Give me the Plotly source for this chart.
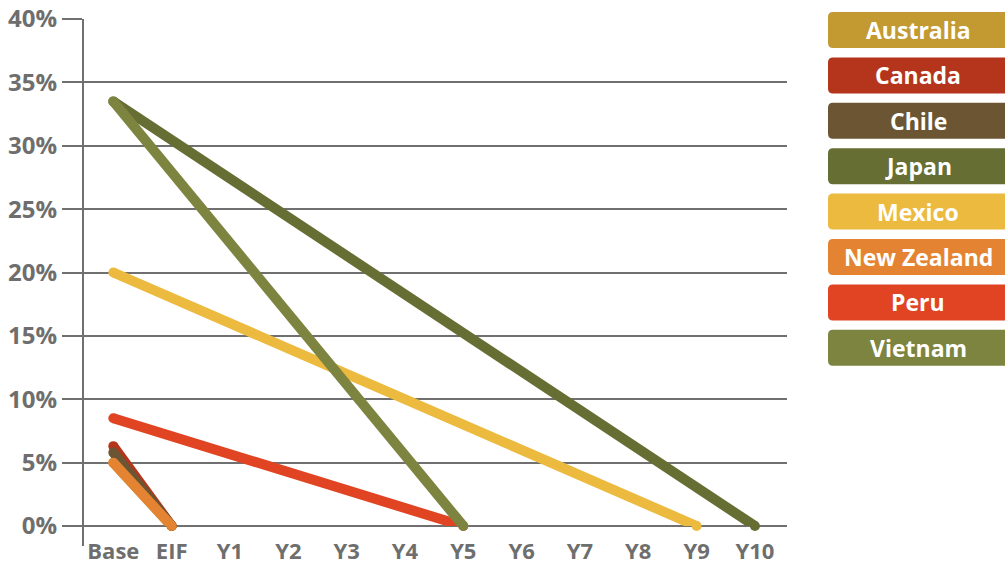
import plotly.graph_objects as go

# Tariff phase-out schedule: base rate and the period in which it reaches zero
periods = ["Base", "EIF", "Y1", "Y2", "Y3", "Y4", "Y5", "Y6", "Y7", "Y8", "Y9", "Y10"]
countries = ["Australia", "Canada", "Chile", "Japan", "Mexico", "New Zealand", "Peru", "Vietnam"]
base_rates = [5.0, 6.3, 5.8, 33.5, 20.0, 5.0, 8.5, 33.5]
end_periods = ["EIF", "EIF", "EIF", "Y10", "Y9", "EIF", "Y5", "Y5"]
colors = ["#C39A32", "#B5351C", "#6B5533", "#666E34", "#EBBA3F", "#E48432", "#E04423", "#7D8440"]

y_ticks = [0, 5, 10, 15, 20, 25, 30, 35, 40]
y_tick_text = [f"{v}%" for v in y_ticks]

GRID = "#707070"
TEXT = "#6E6E6E"
FONT = "Open Sans"

W, H = 1005, 569
L, R, T, B = 83, 218, 19, 43
PW, PH = W - L - R, H - T - B


def px_x(x):
    return (x - L) / PW


def px_y(y):
    return (H - B - y) / PH


fig = go.Figure()
for name, rate, end, col in zip(countries, base_rates, end_periods, colors):
    # thick line with round dots at both ends for rounded caps
    fig.add_trace(go.Scatter(
        x=[periods[0], end], y=[rate, 0],
        mode="lines+markers", name=name,
        line=dict(color=col, width=10),
        marker=dict(color=col, size=10, line=dict(width=0)),
        showlegend=False, hoverinfo="name+y", cliponaxis=False,
    ))

fig.update_layout(
    width=W, height=H,
    margin=dict(l=L, r=R, t=T, b=B),
    paper_bgcolor="white", plot_bgcolor="white",
    font=dict(family=FONT, color=TEXT),
    xaxis=dict(
        type="category", categoryorder="array", categoryarray=periods,
        tickvals=periods, range=[-0.52, 11.55], automargin=False,
        showgrid=False, zeroline=False, showline=False, ticks="",
        tickfont=dict(size=22, family=FONT, color=TEXT, weight="bold"),
        ticklabelstandoff=10,
    ),
    yaxis=dict(
        range=[0, 40], tickvals=y_ticks, ticktext=y_tick_text, automargin=False,
        showgrid=True, gridcolor=GRID, gridwidth=2,
        zeroline=True, zerolinecolor=GRID, zerolinewidth=2,
        showline=False, ticks="outside", ticklen=20, tickcolor=GRID, tickwidth=2,
        tickfont=dict(size=24, family=FONT, color=TEXT, weight="bold"),
        ticklabelstandoff=0,
    ),
)

# vertical axis line running a little below the zero gridline
fig.add_shape(type="line", xref="paper", yref="paper",
              x0=0, x1=0, y0=-20 / PH, y1=1,
              line=dict(color=GRID, width=2), layer="below")


def rounded_box(x0, y0, x1, y1, r):
    """SVG path (paper coords) of a rounded rectangle given in pixels."""
    pts = []
    pts.append(f"M {px_x(x0 + r)},{px_y(y0)}")
    pts.append(f"L {px_x(x1 - r)},{px_y(y0)}")
    pts.append(f"Q {px_x(x1)},{px_y(y0)} {px_x(x1)},{px_y(y0 + r)}")
    pts.append(f"L {px_x(x1)},{px_y(y1 - r)}")
    pts.append(f"Q {px_x(x1)},{px_y(y1)} {px_x(x1 - r)},{px_y(y1)}")
    pts.append(f"L {px_x(x0 + r)},{px_y(y1)}")
    pts.append(f"Q {px_x(x0)},{px_y(y1)} {px_x(x0)},{px_y(y1 - r)}")
    pts.append(f"L {px_x(x0)},{px_y(y0 + r)}")
    pts.append(f"Q {px_x(x0)},{px_y(y0)} {px_x(x0 + r)},{px_y(y0)}")
    pts.append("Z")
    return " ".join(pts)


# legend as coloured labelled boxes on the right
box_top = 12
box_h = 36
box_step = 45.4
for i, (name, col) in enumerate(zip(countries, colors)):
    y0 = box_top + i * box_step
    y1 = y0 + box_h
    fig.add_shape(type="path", xref="paper", yref="paper",
                  path=rounded_box(828, y0, 1015, y1, 5),
                  fillcolor=col, line=dict(width=0))
    fig.add_annotation(xref="paper", yref="paper",
                       x=px_x(918), y=px_y((y0 + y1) / 2),
                       text=name, showarrow=False,
                       xanchor="center", yanchor="middle",
                       font=dict(size=23, family=FONT, color="white", weight="bold"))

fig.write_html("out.html")
